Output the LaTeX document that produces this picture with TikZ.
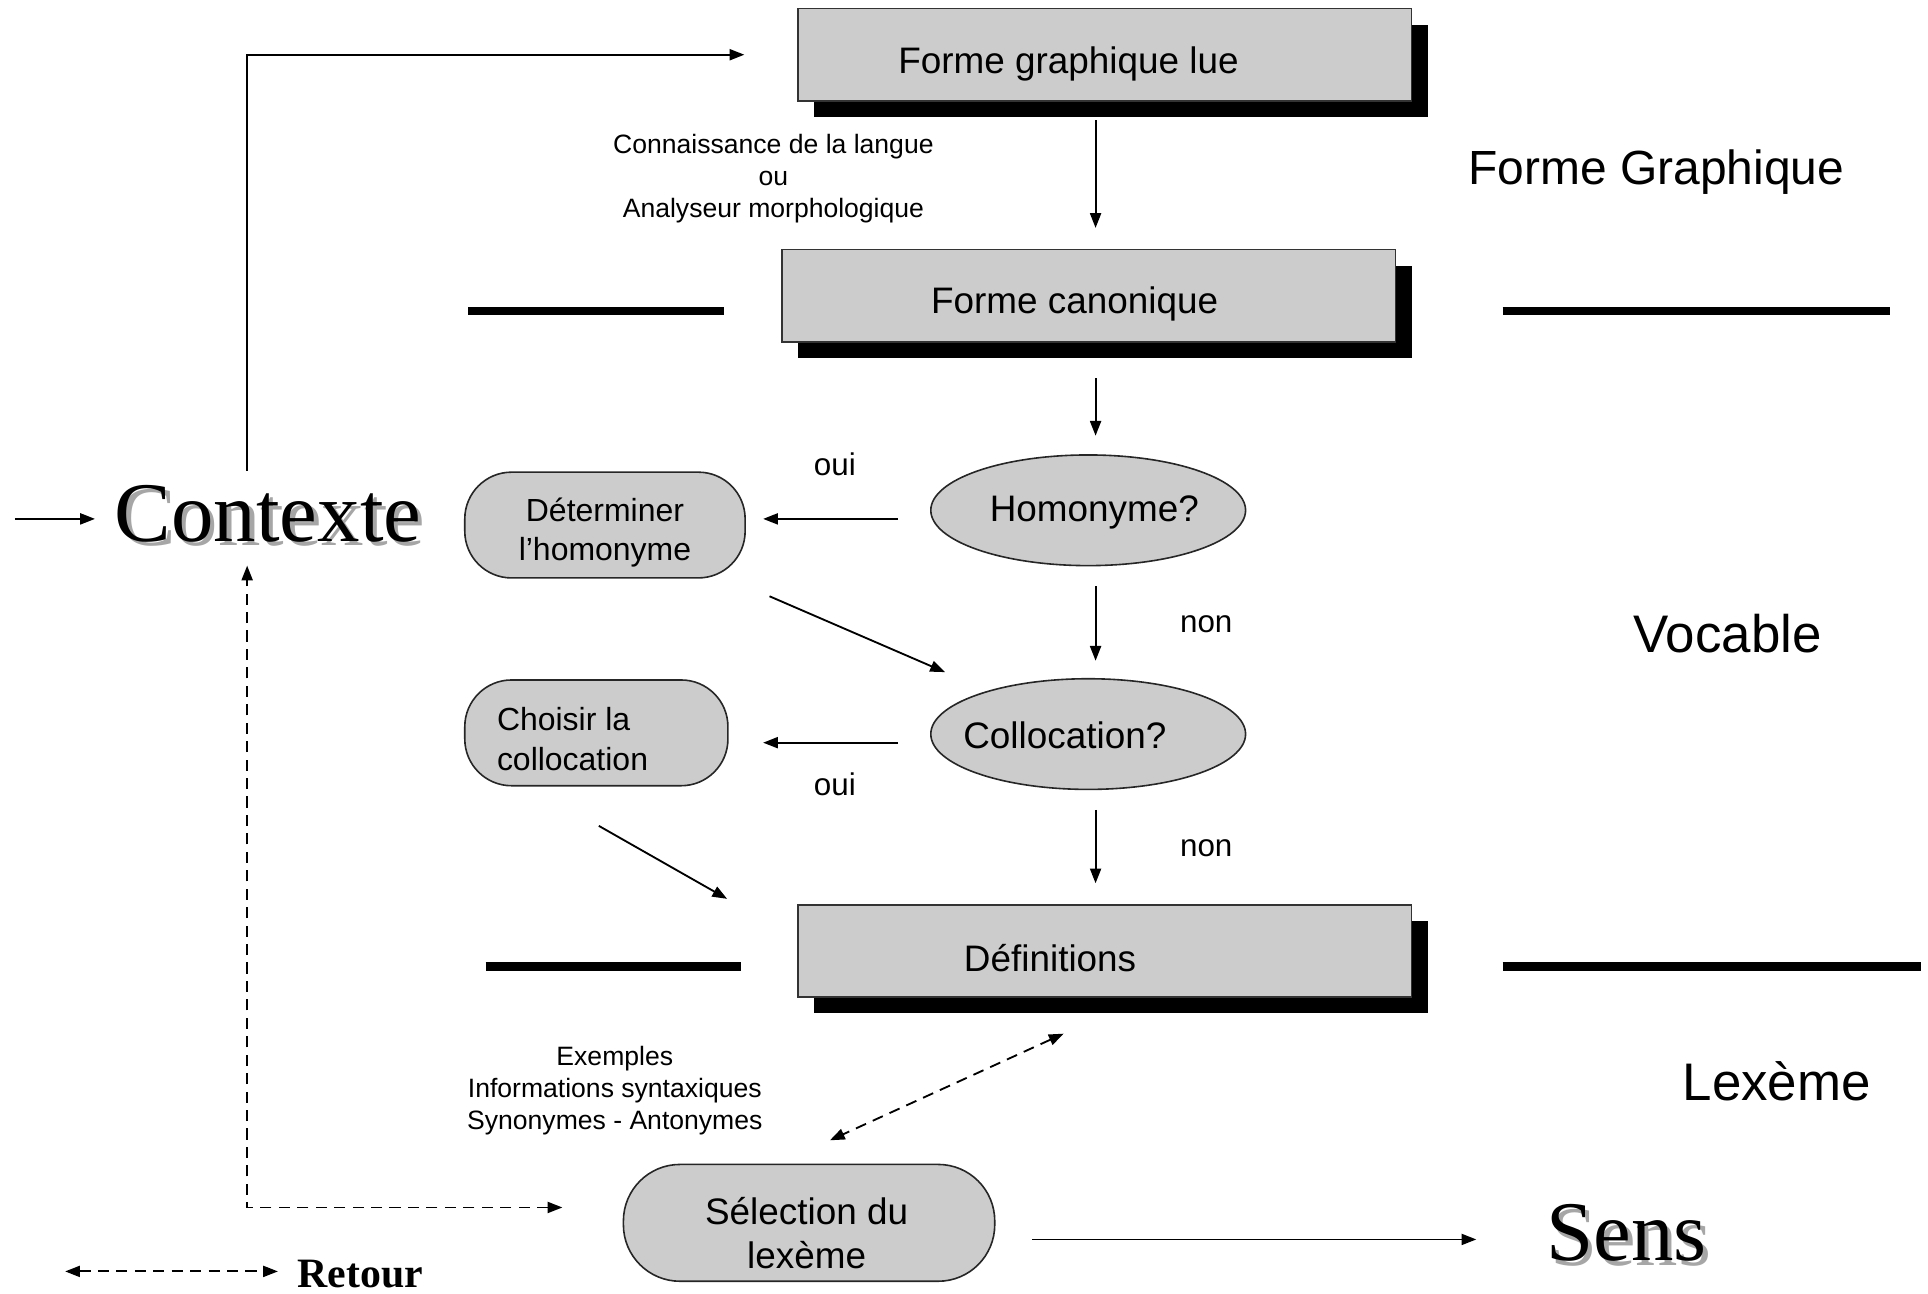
\documentclass[tikz,border=0pt]{standalone}
\usepackage{fontspec}
\setmainfont{Liberation Sans}
\newfontfamily\serifx{Liberation Serif}
\usetikzlibrary{arrows.meta,shapes.geometric,calc}
\begin{document}
\begin{tikzpicture}[x=1pt,y=-1pt,
 arr/.style={line width=1.5pt, -{Triangle[length=12pt,width=9pt]}},
 darr/.style={line width=1.5pt, dash pattern=on 9pt off 6pt, {Triangle[length=12pt,width=9pt]}-{Triangle[length=12pt,width=9pt]}},
 box/.style={draw=black!80, line width=1.3pt, fill=black!20, minimum width=499pt, minimum height=75pt, inner sep=0pt},
 shadowbox/.style={fill=black, minimum width=499pt, minimum height=75pt, inner sep=0pt},
 oval/.style={ellipse, draw=black!85, line width=1.3pt, fill=black!20, minimum width=256pt, minimum height=90pt, inner sep=0pt},
 rbox/.style={draw=black!85, line width=1.3pt, fill=black!20, inner sep=0pt},
 sepline/.style={line width=7pt},
 big/.style={font=\fontsize{30}{36}\selectfont},
 mid/.style={font=\fontsize{26}{32}\selectfont},
 small/.style={font=\fontsize{21.6}{26}\selectfont},
 yesno/.style={font=\fontsize{25.5}{30}\selectfont},
 level/.style={font=\fontsize{43}{50}\selectfont},
 huge/.style={font=\serifx\fontsize{69}{80}\selectfont, inner sep=0pt},
]
\useasboundingbox (0,0) rectangle (1568,1052);
\fill[white] (0,0) rectangle (1568,1052);

% separator lines
\draw[sepline] (381,253) -- (589,253);
\draw[sepline] (1222,253) -- (1537,253);
\draw[sepline] (395,786) -- (603,786);
\draw[sepline] (1222,786) -- (1562,786);

% boxes with shadows
\node[shadowbox] (fglsh) at (911.5,57.5) {};
\node[box] (fgl) at (898.5,44.5) {};
\node[big] (fgltxt) at (869,52) {Forme graphique lue};

\node[shadowbox] (fcsh) at (898.5,253.5) {};
\node[box] (fc) at (885.5,240.5) {};
\node[big] (fctxt) at (874,247) {Forme canonique};

\node[shadowbox] (defsh) at (911.5,786.5) {};
\node[box] (def) at (898.5,773.5) {};
\node[big] (deftxt) at (854,779) {Définitions};

% ellipses
\node[oval] (ho) at (885,415) {};
\node[big] (hotxt) at (890,417) {Homonyme?};
\node[oval] (co) at (885,597) {};
\node[big] (cotxt) at (866,598) {Collocation?};

% rounded boxes
\node[rbox, rounded corners=38pt, minimum width=228pt, minimum height=86pt] (det) at (492,427) {};
\node[mid, align=center] (dettxt) at (492,433) {Déterminer\\l’homonyme};
\node[rbox, rounded corners=38pt, minimum width=214pt, minimum height=86pt] (ch) at (485,596) {};
\node[mid, align=left, anchor=west, inner xsep=0pt] (chtxt) at (404,601) {Choisir la\\collocation};
\node[rbox, rounded corners=46pt, minimum width=302pt, minimum height=95pt] (sel) at (658,994.5) {};
\node[big, align=center] (seltxt) at (656,1003) {Sélection du\\lexème};

% big words
\node[huge, text=black!35] (ctxsh) at (221.5,421.5) {Contexte};
\node[huge] (ctx) at (218,418) {Contexte};
\node[huge, text=black!35] (senssh) at (1326.5,1006.5) {Sens};
\node[huge] (sens) at (1323,1003) {Sens};

% level labels
\node[font=\fontsize{39}{46}\selectfont] (lfg) at (1347,140) {Forme Graphique};
\node[level] (lvoc) at (1405,515) {Vocable};
\node[level] (llex) at (1445,879) {Lexème};

% small labels
\node[small, align=center] (conn) at (629,145) {Connaissance de la langue\\ou\\Analyseur morphologique};
\node[small, align=center] (ex) at (500,887) {Exemples\\Informations syntaxiques\\Synonymes - Antonymes};
\node[yesno] (oui1) at (679,378) {oui};
\node[yesno] (non1) at (981,508) {non};
\node[yesno] (oui2) at (679,638) {oui};
\node[yesno] (non2) at (981,690) {non};

% connectors
\draw[arr] ($(fgl.south)+(-7.5,15)$) -- ($(fc.north)+(5.5,-17)$);
\draw[arr] ($(fc.south)+(5.5,29)$) -- ($(ho.north)+(6,-15)$);
\draw[arr] ($(ho.south)+(6,16)$) -- ($(co.north)+(6,-14)$);
\draw[arr] ($(co.south)+(6,16)$) -- ($(def.north)+(-7.5,-17)$);
\draw[arr] ($(ho.west)+(-26,7)$) -- ($(det.east)+(14,-5)$);
\draw[arr] ($(co.west)+(-26,7)$) -- ($(ch.east)+(28,8)$);
\draw[arr, shorten <=36pt, shorten >=38pt] (det) -- (co);
\draw[arr] ($(ch.south)+(2,32)$) -- ($(def.west)+(-57,-42.5)$);
\draw[darr] ($(def.south)+(-33.5,29)$) -- ($(sel.north)+(17,-19)$);
\draw[arr] ($(sel.east)+(30,13.5)$) -- ($(sens.west)+(-57,5)$);

\coordinate (src) at (12,422);
\draw[arr] (src) -- ($(ctx.west)+(-16,4)$);
\draw[arr] ($(ctx.center)+(-17,-35)$) |- ($(fgl.west)+(-43,0)$);
\draw[darr] ($(sel.west)+(-49,-12.5)$) -| ($(ctx.center)+(-17,42)$);

% legend
\coordinate (lega) at (53,1034);
\coordinate (legb) at (226,1034);
\draw[darr] (lega) -- (legb);
\node[font=\serifx\bfseries\fontsize{34}{40}\selectfont] (ret) at (293,1036) {Retour};
\end{tikzpicture}
\end{document}
